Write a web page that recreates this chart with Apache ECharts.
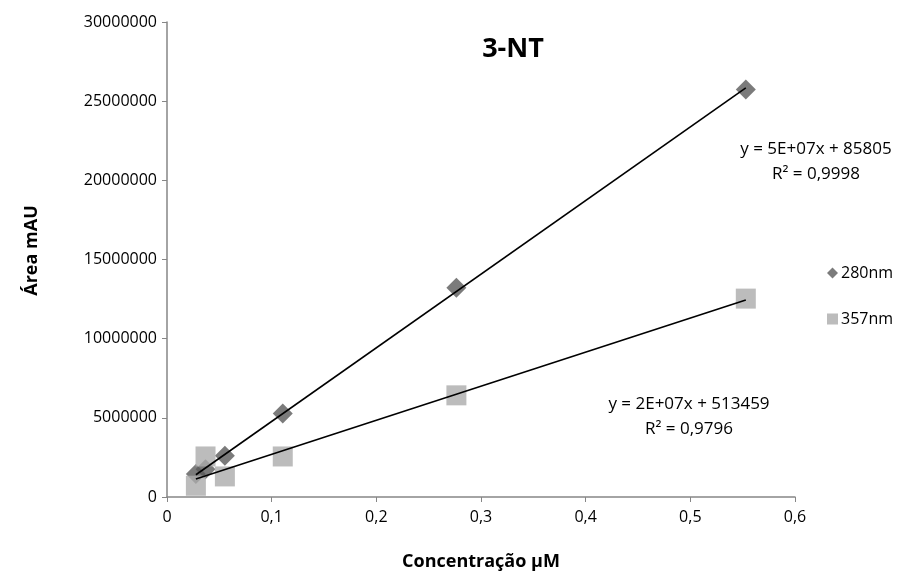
<!DOCTYPE html>
<html>
<head>
<meta charset="utf-8">
<script src="https://cdn.jsdelivr.net/npm/echarts@6/dist/echarts.min.js"></script>
<style>
  html, body { margin: 0; padding: 0; background: #fff; }
  #chart { width: 903px; height: 576px; }
</style>
</head>
<body>
<div id="chart"></div>
<script>
// concentrações (µM)
const conc = [0.0276, 0.0368, 0.0553, 0.1106, 0.2765, 0.553]
// áreas
const area280 = [1450000, 1750000, 2600000, 5270000, 13210000, 25740000]
const area357 = [710000, 2560000, 1300000, 2560000, 6420000, 12530000]
const seriesNames = ['280nm', '357nm']
const eqText280 = ['y = 5E+07x + 85805', 'R² = 0,9998']
const eqText357 = ['y = 2E+07x + 513459', 'R² = 0,9796']

const FONT = '"Open Sans", "Noto Sans", sans-serif'

// linha de tendência linear (mínimos quadrados)
function trend(xs, ys) {
  const n = xs.length
  const mx = xs.reduce((a, b) => a + b, 0) / n
  const my = ys.reduce((a, b) => a + b, 0) / n
  let sxy = 0, sxx = 0
  for (let i = 0; i < n; i++) {
    sxy += (xs[i] - mx) * (ys[i] - my)
    sxx += (xs[i] - mx) * (xs[i] - mx)
  }
  const b = sxy / sxx
  const a = my - b * mx
  const x0 = Math.min(...xs), x1 = Math.max(...xs)
  return [[x0, a + b * x0], [x1, a + b * x1]]
}

const chart = echarts.init(document.getElementById('chart'))

const axisLine = { show: true, lineStyle: { color: '#868686', width: 1.5 } }

chart.setOption({
  animation: false,
  textStyle: { fontFamily: FONT },
  title: {
    text: '3-NT',
    left: 508,
    top: 31,
    textAlign: 'center',
    textStyle: { fontSize: 27, fontWeight: 'bold', color: '#000', fontFamily: FONT }
  },
  legend: {
    data: seriesNames.map((n, i) => ({ name: n, icon: i === 0 ? 'diamond' : 'rect' })),
    orient: 'vertical',
    left: 822,
    top: 260,
    itemGap: 30,
    itemWidth: 11,
    itemHeight: 11,
    textStyle: { fontSize: 16, color: '#000', padding: [0, 0, 0, -2] }
  },
  grid: { left: 167, right: 108, top: 22, bottom: 78 },
  xAxis: {
    type: 'value',
    min: 0,
    max: 0.6,
    interval: 0.1,
    name: 'Concentração µM',
    nameLocation: 'middle',
    nameGap: 56,
    nameTextStyle: { fontSize: 18, fontWeight: 'bold', color: '#000' },
    axisLine,
    axisTick: { show: true, length: 5, lineStyle: { color: '#868686' } },
    axisLabel: {
      fontSize: 16, color: '#000', margin: 12,
      formatter: v => String(v).replace('.', ',')
    },
    splitLine: { show: false }
  },
  yAxis: {
    type: 'value',
    min: 0,
    max: 30000000,
    interval: 5000000,
    name: 'Área mAU',
    nameLocation: 'middle',
    nameGap: 126,
    nameTextStyle: { fontSize: 18, fontWeight: 'bold', color: '#000', padding: [0, 0, 0, 18] },
    axisLine,
    axisTick: { show: true, length: 5, lineStyle: { color: '#868686' } },
    axisLabel: { fontSize: 16, color: '#000', margin: 10, formatter: v => String(v) },
    splitLine: { show: false }
  },
  series: [
    {
      name: seriesNames[0],
      type: 'scatter',
      symbol: 'diamond',
      symbolSize: 20,
      itemStyle: { color: '#5a5a5a' },
      data: conc.map((x, i) => [x, area280[i]]),
      z: 2
    },
    {
      name: seriesNames[1],
      type: 'scatter',
      symbol: 'rect',
      symbolSize: 20,
      itemStyle: { color: '#ababab' },
      data: conc.map((x, i) => [x, area357[i]]),
      z: 3
    },
    {
      name: 'trend280',
      type: 'line',
      data: trend(conc, area280),
      symbol: 'none',
      lineStyle: { color: '#000', width: 1.6 },
      z: 4
    },
    {
      name: 'trend357',
      type: 'line',
      data: trend(conc, area357),
      symbol: 'none',
      lineStyle: { color: '#000', width: 1.6 },
      z: 4
    }
  ],
  graphic: [
    {
      type: 'text', x: 816, y: 162, z: 10,
      style: { text: eqText280.join('\n'), textAlign: 'center', textVerticalAlign: 'middle',
        font: '17px ' + FONT, fill: '#000', lineHeight: 25 }
    },
    {
      type: 'text', x: 689, y: 417, z: 10,
      style: { text: eqText357.join('\n'), textAlign: 'center', textVerticalAlign: 'middle',
        font: '17px ' + FONT, fill: '#000', lineHeight: 25 }
    }
  ]
})
</script>
</body>
</html>
